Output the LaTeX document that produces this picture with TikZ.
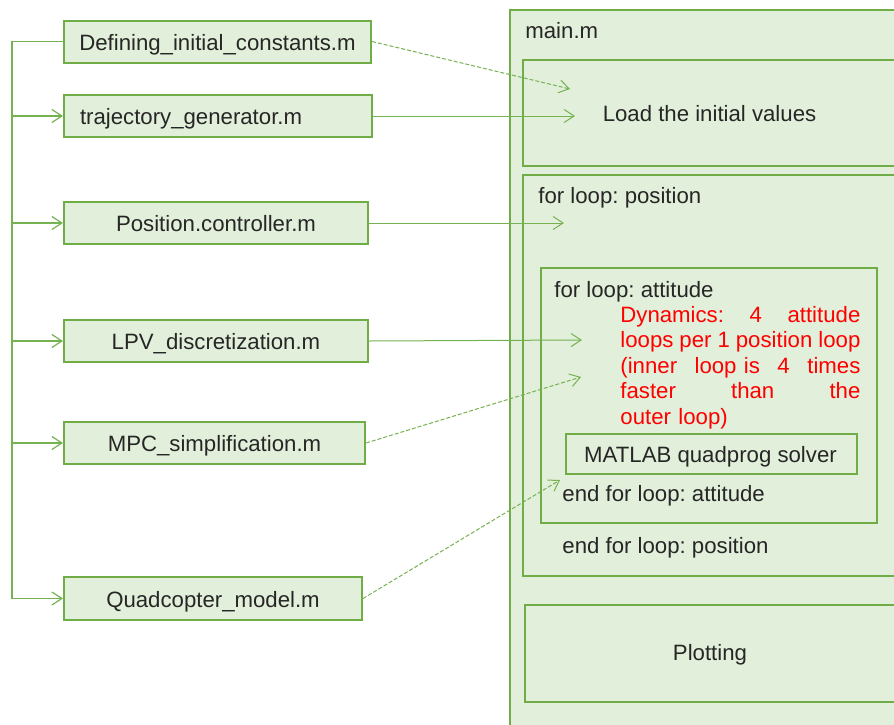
\documentclass[tikz,border=0pt]{standalone}
\usepackage{fontspec}
\setmainfont{Liberation Sans}
\usetikzlibrary{arrows.meta}
\definecolor{gborder}{HTML}{70AD47}
\definecolor{gfill}{HTML}{E2EFDA}
\definecolor{gline}{HTML}{76B252}
\definecolor{redtxt}{HTML}{FF0000}
\tikzset{
  txt/.style={font=\fontsize{11.1}{12.75}\selectfont\frenchspacing, text=black!85},
  filebox/.style={txt, draw=gborder, fill=gfill, line width=1pt, inner sep=0pt, minimum height=21pt, text height=8.5pt, text depth=0pt},
  areabox/.style={draw=gborder, fill=gfill, line width=1pt, inner sep=0pt, anchor=north west},
  lbl/.style={txt, inner sep=0pt, anchor=base west},
  conn/.style={draw=gline, line width=0.5pt, -{Straight Barb[length=5pt,width=6.5pt]}},
  dconn/.style={conn, dash pattern=on 2pt off 1pt},
  brack/.style={draw=gline, line width=0.9pt},
}
\newcommand{\jline}[1]{\leavevmode\hbox to 120pt{#1}}
\begin{document}
\begin{tikzpicture}[x=0.5pt,y=-0.5pt]
\clip (0,0) rectangle (894,724);
\fill[white] (0,0) rectangle (894,724);

% right side: main.m and its blocks
\node[areabox, minimum width=198pt, minimum height=366pt] (main) at (509,9) {};
\node[lbl] (mainlbl) at (525,38) {main.m};
\node[areabox, minimum width=187pt, minimum height=53pt] (load) at (522,59) {};
\node[txt, inner sep=0pt, anchor=base] (loadlbl) at (709.5,121) {Load the initial values};
\node[areabox, minimum width=187pt, minimum height=200.5pt] (posloop) at (522,174) {};
\node[lbl] (poslbl) at (538,203) {for loop: position};
\node[areabox, minimum width=168pt, minimum height=127.5pt] (attloop) at (540,267) {};
\node[lbl] (attlbl) at (554,297) {for loop: attitude};
\node[txt, text=redtxt, inner sep=0pt, anchor=north west, align=left, text width=120pt] (dyn) at (620,306)
  {\jline{Dynamics:\hfill 4\hfill attitude}\\
   \jline{loops\hfill per\hfill 1\hfill position\hfill loop}\\
   \jline{(inner\hfill loop is\hfill 4\hfill times}\\
   \jline{faster\hfill than\hfill the}\\
   outer loop)};
\node[areabox, line width=0.8pt, minimum width=145.5pt, minimum height=20pt] (qp) at (565,433) {};
\node[txt, inner sep=0pt, anchor=base] (qplbl) at (710.5,462) {MATLAB quadprog solver};
\node[lbl] (endatt) at (562,501) {end for loop: attitude};
\node[lbl] (endpos) at (562,553) {end for loop: position};
\node[areabox, minimum width=186pt, minimum height=48.5pt] (plot) at (524,604) {};
\node[txt, inner sep=0pt, anchor=base] (plotlbl) at (710,660) {Plotting};

% left side: files
\node[filebox, minimum width=153.5pt] (A) at (217.5,41.5) {Defining\_initial\_constants.m};
\node[filebox, text width=138pt, inner xsep=8pt, align=left] (B) at (218,116) {trajectory\_generator.m};
\node[filebox, minimum width=152pt] (C) at (216,223) {Position.controller.m};
\node[filebox, minimum width=152pt] (D) at (216,341) {LPV\_discretization.m};
\node[filebox, minimum width=150.5pt] (E) at (214.5,443) {MPC\_simplification.m};
\node[filebox, minimum width=149pt, minimum height=21.5pt] (F) at (213,598.5) {Quadcopter\_model.m};

% bracket on the left
\coordinate (bot) at (12,598.5);
\draw[brack] (A.west) -| (bot);
\foreach \n in {B,C,D,E,F}
  \draw[conn, line width=0.6pt] (bot |- \n.west) -- (\n.west);

% connectors into main.m
\coordinate (tA) at (570,89);
\coordinate (tB) at (575,116);
\coordinate (tC) at (564,223);
\coordinate (tD) at (582,340);
\coordinate (tE) at (581,377);
\coordinate (tF) at (560,480);
\draw[dconn] (A.east) -- (tA);
\draw[conn] (B.east) -- (tB);
\draw[conn] (C.east) -- (tC);
\draw[conn] (D.east) -- (tD);
\draw[dconn] (E.east) -- (tE);
\draw[dconn] (F.east) -- (tF);
\end{tikzpicture}
\end{document}
